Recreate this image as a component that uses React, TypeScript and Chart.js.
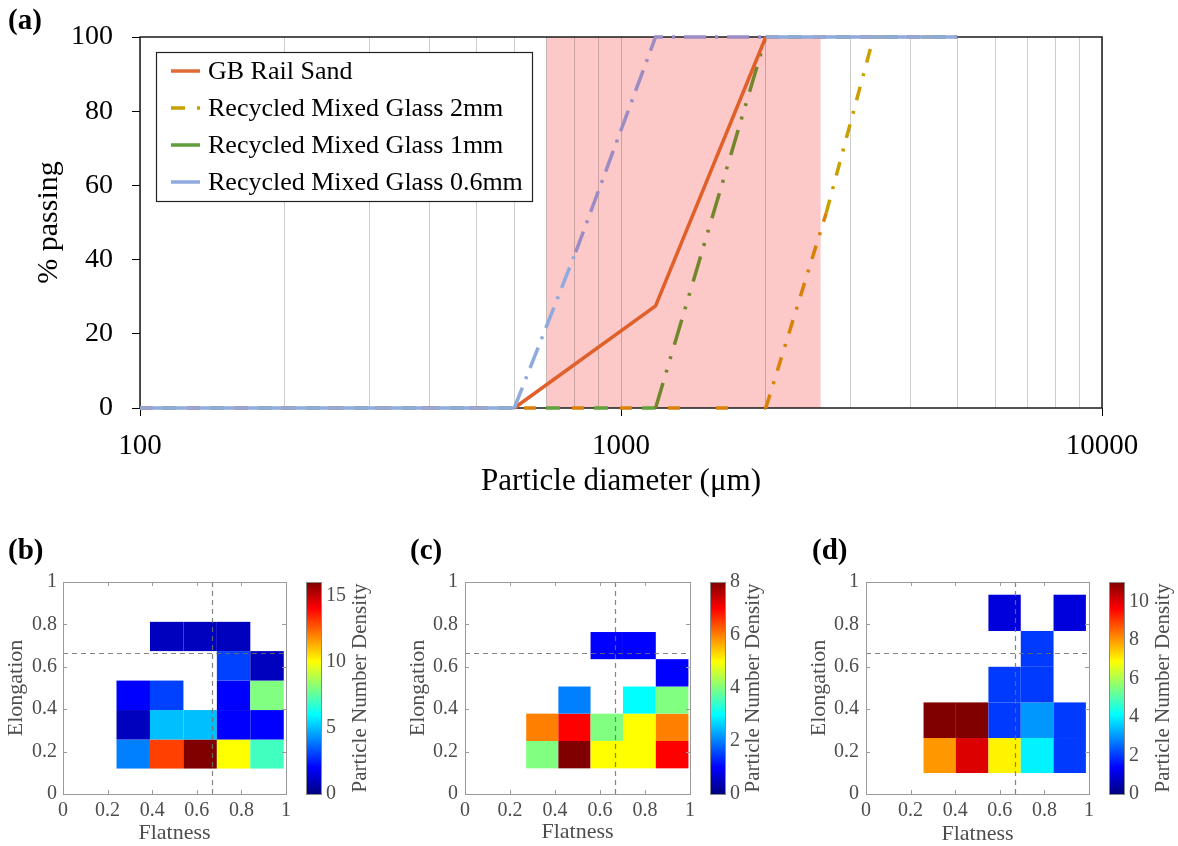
import React, { useEffect, useRef } from 'react';
import { Chart, registerables } from 'chart.js';

Chart.register(...registerables);

const SERIF = '"Liberation Serif", "Times New Roman", serif';
const GRAY_TXT = '#4d4d4d';

// ---------- (a) grading curves ----------
const seriesNames = [
  'GB Rail Sand',
  'Recycled Mixed Glass 2mm',
  'Recycled Mixed Glass 1mm',
  'Recycled Mixed Glass 0.6mm',
];
const sandSize = [100, 600, 1180, 2000, 5000];
const sandPassing = [0, 0, 27.5, 100, 100];
const glass2Size = [100, 2000, 2670, 3350, 5000];
const glass2Passing = [0, 0, 52.5, 100, 100];
const glass1Size = [100, 1180, 2000, 5000];
const glass1Passing = [0, 0, 100, 100];
const glass06Size = [100, 600, 805, 1180, 2000, 5000];
const glass06Passing = [0, 0, 42, 100, 100, 100];
const bandRange = [700, 2600];
const xTickValues = [
  100, 200, 300, 400, 500, 600, 700, 800, 900,
  1000, 2000, 3000, 4000, 5000, 6000, 7000, 8000, 9000, 10000,
];
const xTickLabels = ['100', '1000', '10000'];
const yTickStep = 20;

// ---------- (b)(c)(d) shape histograms ----------
const shapeThreshold = 0.667;

const bFlatEdges = [0.24, 0.39, 0.54, 0.69, 0.84, 0.99];
const bElongEdges = [0.12, 0.257, 0.396, 0.535, 0.674, 0.812];
const bCounts = [
  [4, 13, 16, 10, 7],
  [1, 5, 5, 2, 2],
  [2, 3, 0, 2, 8],
  [0, 0, 0, 3, 1],
  [0, 1, 1, 1, 0],
];
const bMax = 16;
const bStep = 5;

const cFlatEdges = [0.272, 0.415, 0.558, 0.702, 0.848, 0.993];
const cElongEdges = [0.121, 0.25, 0.379, 0.507, 0.636, 0.764];
const cCounts = [
  [4, 8, 5, 5, 7],
  [6, 7, 4, 5, 6],
  [0, 2, 0, 3, 4],
  [0, 0, 0, 0, 1],
  [0, 0, 1, 1, 0],
];
const cMax = 8;
const cStep = 2;

const dFlatEdges = [0.258, 0.403, 0.549, 0.694, 0.841, 0.986];
const dElongEdges = [0.099, 0.264, 0.432, 0.6, 0.769, 0.94];
const dCounts = [
  [8, 10, 7, 4, 2],
  [11, 11, 2, 3, 2],
  [0, 0, 2, 2, 0],
  [0, 0, 0, 2, 0],
  [0, 0, 1, 0, 1],
];
const dMax = 11;
const dStep = 2;

function jet(t: number) {
  const c = (v: number) => Math.round(255 * Math.max(0, Math.min(1, v)));
  return `rgb(${c(1.5 - Math.abs(4 * t - 3))},${c(1.5 - Math.abs(4 * t - 2))},${c(1.5 - Math.abs(4 * t - 1))})`;
}

const pts = (xs: number[], ys: number[]) => xs.map((x, i) => ({ x, y: ys[i] }));
const isDecade = (v: any) => {
  if (typeof v !== 'number' || v <= 0) return false;
  const l = Math.log10(v);
  return Math.abs(l - Math.round(l)) < 1e-9;
};
const isFlat = (c: any) => c.p0.parsed.y === c.p1.parsed.y;

const bandPlugin = {
  id: 'bandBox',
  beforeDatasetsDraw(chart: any) {
    const { ctx, chartArea: a, scales } = chart;
    const x = scales.x;
    const x0 = x.getPixelForValue(bandRange[0]);
    const x1 = x.getPixelForValue(bandRange[1]);
    ctx.save();
    ctx.globalCompositeOperation = 'multiply';
    ctx.fillStyle = 'rgb(252,200,200)';
    ctx.fillRect(x0, a.top, x1 - x0, a.bottom - a.top);
    ctx.restore();
    ctx.save();
    ctx.strokeStyle = '#1a1a1a';
    ctx.lineWidth = 1.5;
    ctx.strokeRect(a.left, a.top, a.right - a.left, a.bottom - a.top);
    ctx.restore();
  },
};

const legendColors = ['#E06A35', '#C9A000', '#5E9E3A', '#8FAADC'];

const legendPlugin = {
  id: 'innerLegend',
  afterDatasetsDraw(chart: any) {
    const { ctx } = chart;
    const bx = 156, by = 52, bw = 376, bh = 149;
    ctx.save();
    ctx.fillStyle = '#fff';
    ctx.fillRect(bx, by, bw, bh);
    ctx.strokeStyle = '#222';
    ctx.lineWidth = 1.2;
    ctx.strokeRect(bx + 0.5, by + 0.5, bw, bh);
    const rows = [71, 108, 145, 182];
    rows.forEach((ry, i) => {
      ctx.strokeStyle = legendColors[i];
      ctx.lineWidth = 3.5;
      ctx.beginPath();
      if (i === 1) {
        ctx.moveTo(171, ry);
        ctx.lineTo(185, ry);
        ctx.moveTo(197, ry);
        ctx.lineTo(200, ry);
      } else {
        ctx.moveTo(171, ry);
        ctx.lineTo(200, ry);
      }
      ctx.stroke();
      ctx.fillStyle = '#000';
      ctx.font = `26px ${SERIF}`;
      ctx.textBaseline = 'middle';
      ctx.textAlign = 'left';
      ctx.fillText(seriesNames[i], 208, ry + 1);
    });
    ctx.restore();
  },
};

function GradingChart() {
  const ref = useRef<HTMLCanvasElement>(null);
  useEffect(() => {
    const dash2 = [14, 11, 3, 11];
    const dash1 = [26, 11, 3, 11, 3, 12];
    const dash06 = [22, 9, 3, 9];
    const chart = new Chart(ref.current as HTMLCanvasElement, {
      type: 'scatter',
      data: {
        datasets: [
          {
            label: seriesNames[3],
            data: pts(glass06Size, glass06Passing),
            showLine: true,
            borderColor: '#8FAADC',
            borderWidth: 3.5,
            pointRadius: 0,
            clip: false,
            segment: {
              borderColor: (c: any) =>
                c.p0DataIndex < 2 || c.p0DataIndex >= 4 ? '#8FAADC' : '#9C8CC4',
              borderDash: (c: any) => (c.p0DataIndex === 0 || c.p0DataIndex >= 4 ? [] : dash06),
            },
          },
          {
            label: seriesNames[0],
            data: pts(sandSize, sandPassing),
            showLine: true,
            borderColor: '#E0602A',
            borderWidth: 3.5,
            pointRadius: 0,
            clip: false,
            segment: {
              borderDash: (c: any) => (isFlat(c) ? [13, 34] : []),
            },
          },
          {
            label: seriesNames[1],
            data: pts(glass2Size, glass2Passing),
            showLine: true,
            borderColor: '#C9A000',
            borderWidth: 3.5,
            borderDash: dash2,
            pointRadius: 0,
            clip: false,
            segment: {
              borderColor: (c: any) => (c.p0DataIndex < 2 ? '#D8820A' : '#C9A000'),
              borderDash: (c: any) => (isFlat(c) ? [12, 36] : dash2),
            },
          },
          {
            label: seriesNames[2],
            data: pts(glass1Size, glass1Passing),
            showLine: true,
            borderColor: '#72862C',
            borderWidth: 3.5,
            borderDash: dash1,
            pointRadius: 0,
            clip: false,
            segment: {
              borderColor: (c: any) => (c.p0DataIndex < 1 ? '#62A03A' : '#72862C'),
              borderDash: (c: any) => (isFlat(c) ? [14, 34] : dash1),
              borderDashOffset: (c: any) => (isFlat(c) ? -22 : 0),
            },
          },
        ],
      } as any,
      options: {
        responsive: false,
        animation: false,
        layout: { padding: { top: 37, right: 76, left: 0, bottom: 0 } },
        plugins: { legend: { display: false }, tooltip: { enabled: false } },
        scales: {
          x: {
            type: 'logarithmic',
            min: 100,
            max: 10000,
            afterFit: (s: any) => {
              s.height = 122;
            },
            afterBuildTicks: (s: any) => {
              s.ticks = xTickValues.map((v) => ({ value: v, major: isDecade(v) }));
            },
            ticks: {
              autoSkip: false,
              maxRotation: 0,
              minRotation: 0,
              padding: 13,
              color: '#000',
              font: { family: SERIF, size: 29 },
              callback: (v: any) => (xTickLabels.includes(String(v)) ? String(v) : ''),
            },
            grid: {
              color: '#cdcdcd',
              lineWidth: 1,
              tickLength: 8,
              tickColor: (c: any) => (c.tick && isDecade(c.tick.value) ? '#000' : 'rgba(0,0,0,0)'),
            },
            border: { display: false },
            title: {
              display: true,
              text: 'Particle diameter (μm)',
              color: '#000',
              font: { family: SERIF, size: 31 },
              padding: { top: 0, bottom: 30 },
            },
          },
          y: {
            type: 'linear',
            min: 0,
            max: 100,
            afterFit: (s: any) => {
              s.width = 140;
            },
            ticks: {
              stepSize: yTickStep,
              padding: 19,
              color: '#000',
              font: { family: SERIF, size: 28 },
            },
            grid: { drawOnChartArea: false, tickLength: 8, tickColor: '#000' },
            border: { display: false },
            title: {
              display: true,
              text: '% passing',
              color: '#000',
              font: { family: SERIF, size: 30 },
              padding: { top: 31, bottom: 0 },
            },
          },
        },
      } as any,
      plugins: [bandPlugin, legendPlugin],
    });
    return () => chart.destroy();
  }, []);
  return (
    <canvas
      ref={ref}
      width={1178}
      height={530}
      style={{ position: 'absolute', left: 0, top: 0, width: 1178, height: 530 }}
    />
  );
}

type Panel = {
  id: string;
  tag: string;
  left: number;
  w: number;
  h: number;
  cl: number;
  cr: number;
  ct: number;
  cb: number;
  yPad: number;
  ytPad: number;
  cbTitle: number;
  xEdges: number[];
  yEdges: number[];
  counts: number[][];
  max: number;
  step: number;
  tagLeft: number;
};

const panels: Panel[] = [
  { id: 'b', tag: '(b)', left: 0, w: 392, h: 316, cl: 63, cr: 286, ct: 43, cb: 266, yPad: 6, ytPad: 5.5, cbTitle: 74, xEdges: bFlatEdges, yEdges: bElongEdges, counts: bCounts, max: bMax, step: bStep, tagLeft: 8 },
  { id: 'c', tag: '(c)', left: 400, w: 392, h: 316, cl: 65, cr: 290, ct: 42, cb: 267, yPad: 7, ytPad: 7, cbTitle: 63, xEdges: cFlatEdges, yEdges: cElongEdges, counts: cCounts, max: cMax, step: cStep, tagLeft: 410 },
  { id: 'd', tag: '(d)', left: 790, w: 388, h: 316, cl: 76, cr: 299, ct: 42, cb: 265, yPad: 7, ytPad: 18.5, cbTitle: 74, xEdges: dFlatEdges, yEdges: dElongEdges, counts: dCounts, max: dMax, step: dStep, tagLeft: 812 },
];

function heatPlugin(p: Panel) {
  return {
    id: 'heat' + p.id,
    beforeDatasetsDraw(chart: any) {
      const { ctx, chartArea: a, scales } = chart;
      const x = scales.x, y = scales.y;
      ctx.save();
      p.counts.forEach((row, r) =>
        row.forEach((v, c) => {
          if (!v) return;
          const x0 = x.getPixelForValue(p.xEdges[c]);
          const x1 = x.getPixelForValue(p.xEdges[c + 1]);
          const y0 = y.getPixelForValue(p.yEdges[r]);
          const y1 = y.getPixelForValue(p.yEdges[r + 1]);
          ctx.fillStyle = jet(v / p.max);
          ctx.fillRect(x0, y1, x1 - x0, y0 - y1);
        })
      );
      // threshold lines
      ctx.strokeStyle = 'rgba(110,110,110,0.85)';
      ctx.lineWidth = 1.2;
      ctx.setLineDash([5, 4]);
      const xr = Math.round(x.getPixelForValue(shapeThreshold)) + 0.5;
      const yr = Math.round(y.getPixelForValue(shapeThreshold)) + 0.5;
      ctx.beginPath();
      ctx.moveTo(xr, a.top);
      ctx.lineTo(xr, a.bottom);
      ctx.moveTo(a.left, yr);
      ctx.lineTo(a.right, yr);
      ctx.stroke();
      ctx.setLineDash([]);
      // box
      ctx.strokeStyle = '#9a9a9a';
      ctx.lineWidth = 1;
      ctx.strokeRect(Math.round(a.left) + 0.5, Math.round(a.top) + 0.5, Math.round(a.right - a.left), Math.round(a.bottom - a.top));
      // inside ticks
      ctx.beginPath();
      for (let i = 0; i <= 5; i++) {
        const v = i * 0.2;
        const px = Math.round(x.getPixelForValue(v)) + 0.5;
        const py = Math.round(y.getPixelForValue(v)) + 0.5;
        ctx.moveTo(px, a.bottom);
        ctx.lineTo(px, a.bottom - 4);
        ctx.moveTo(px, a.top);
        ctx.lineTo(px, a.top + 4);
        ctx.moveTo(a.left, py);
        ctx.lineTo(a.left + 4, py);
        ctx.moveTo(a.right, py);
        ctx.lineTo(a.right - 4, py);
      }
      ctx.stroke();
      // colour bar
      const cx0 = a.right + 20;
      const grad = ctx.createLinearGradient(0, a.bottom, 0, a.top);
      [0, 0.125, 0.375, 0.625, 0.875, 1].forEach((s) => grad.addColorStop(s, jet(s)));
      ctx.fillStyle = grad;
      ctx.fillRect(cx0, a.top, 15, a.bottom - a.top);
      ctx.strokeStyle = '#8a8a8a';
      ctx.strokeRect(cx0 + 0.5, Math.round(a.top) + 0.5, 15, Math.round(a.bottom - a.top));
      // colour bar title
      ctx.translate(a.right + p.cbTitle, (a.top + a.bottom) / 2);
      ctx.rotate(-Math.PI / 2);
      ctx.font = `21px ${SERIF}`;
      ctx.fillStyle = GRAY_TXT;
      ctx.textAlign = 'center';
      ctx.textBaseline = 'middle';
      ctx.fillText('Particle Number Density', 0, 0);
      ctx.restore();
    },
  };
}

const fmtTick = (v: any) => String(Number(Number(v).toFixed(1)));

function HeatPanel({ p }: { p: Panel }) {
  const ref = useRef<HTMLCanvasElement>(null);
  useEffect(() => {
    const chart = new Chart(ref.current as HTMLCanvasElement, {
      type: 'scatter',
      data: { datasets: [] },
      options: {
        responsive: false,
        animation: false,
        layout: { padding: { top: p.ct, left: 0, right: 0, bottom: 0 } },
        plugins: { legend: { display: false }, tooltip: { enabled: false } },
        scales: {
          x: {
            type: 'linear',
            min: 0,
            max: 1,
            afterFit: (s: any) => {
              s.height = p.h - p.cb;
            },
            ticks: {
              stepSize: 0.2,
              padding: 5,
              autoSkip: false,
              maxRotation: 0,
              color: GRAY_TXT,
              font: { family: SERIF, size: 20 },
              callback: fmtTick,
            },
            grid: { display: false, drawTicks: false },
            border: { display: false },
            title: {
              display: true,
              text: 'Flatness',
              color: GRAY_TXT,
              font: { family: SERIF, size: 22, lineHeight: 1 },
              padding: { top: 0, bottom: 0 },
            },
          },
          y: {
            type: 'linear',
            min: 0,
            max: 1,
            afterFit: (s: any) => {
              s.width = p.cl;
            },
            ticks: {
              stepSize: 0.2,
              padding: p.yPad,
              color: GRAY_TXT,
              font: { family: SERIF, size: 20 },
              callback: fmtTick,
            },
            grid: { display: false, drawTicks: false },
            border: { display: false },
            title: {
              display: true,
              text: 'Elongation',
              color: GRAY_TXT,
              font: { family: SERIF, size: 22, lineHeight: 1 },
              padding: { top: p.ytPad, bottom: 0 },
            },
          },
          cbar: {
            type: 'linear',
            axis: 'y',
            position: 'right',
            min: 0,
            max: p.max,
            afterFit: (s: any) => {
              s.width = p.w - p.cr;
            },
            ticks: {
              stepSize: p.step,
              includeBounds: false,
              padding: 40,
              color: GRAY_TXT,
              font: { family: SERIF, size: 20 },
            },
            grid: { display: false, drawTicks: false },
            border: { display: false },
          },
        },
      } as any,
      plugins: [heatPlugin(p)],
    });
    return () => chart.destroy();
  }, [p]);
  return (
    <canvas
      ref={ref}
      width={p.w}
      height={p.h}
      style={{ position: 'absolute', left: p.left, top: 530, width: p.w, height: p.h }}
    />
  );
}

const tagStyle: React.CSSProperties = {
  position: 'absolute',
  font: `bold 29px ${SERIF}`,
  lineHeight: '29px',
  color: '#000',
  whiteSpace: 'nowrap',
};

export default function App() {
  return (
    <div
      style={{
        position: 'absolute',
        left: 0,
        top: 0,
        width: 1178,
        height: 846,
        background: '#fff',
        overflow: 'hidden',
      }}
    >
      <GradingChart />
      {panels.map((p) => (
        <HeatPanel key={p.id} p={p} />
      ))}
      <div style={{ ...tagStyle, left: 8, top: 5 }}>(a)</div>
      {panels.map((p) => (
        <div key={'t' + p.id} style={{ ...tagStyle, left: p.tagLeft, top: 535 }}>
          {p.tag}
        </div>
      ))}
    </div>
  );
}
